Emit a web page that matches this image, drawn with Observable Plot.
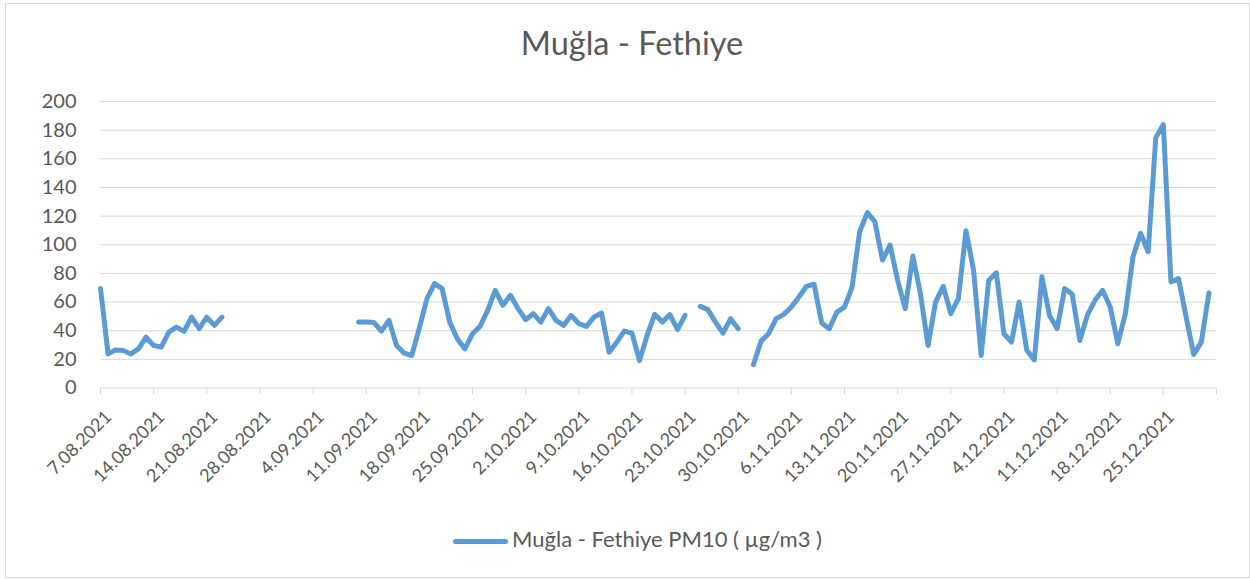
<!DOCTYPE html>
<html>
<head>
<meta charset="utf-8">
<script src="https://cdn.jsdelivr.net/npm/d3@7"></script>
<script src="https://cdn.jsdelivr.net/npm/@observablehq/plot@0.6"></script>
<style>
  html, body { margin: 0; padding: 0; background: #fff; }
  #chart { position: relative; width: 1250px; height: 579px; font-family: Lato, "Open Sans", sans-serif; color: #595959; }
  #frame { position: absolute; left: 5px; top: 3px; width: 1245px; height: 575px; border: 1px solid #d9d9d9; box-sizing: border-box; pointer-events: none; }
  #title { height: 80px; box-sizing: border-box; padding-top: 27px; font-size: 32.5px; line-height: 32.5px; text-align: center; padding-left: 14px; }
  #plot svg { display: block; }
  #legend { position: relative; height: 59px; }
  #legend .sw { position: absolute; left: 453px; top: 18.5px; width: 55px; height: 5px; border-radius: 2.5px; background: #5b9bd5; }
  #legend .lbl { position: absolute; left: 512px; top: 7.5px; font-size: 22px; line-height: 22px; white-space: nowrap; }
</style>
</head>
<body>
<div id="chart">
  <div id="title">Muğla - Fethiye</div>
  <div id="plot"></div>
  <div id="legend"><div class="sw"></div><div class="lbl">Muğla - Fethiye PM10 ( µg/m3 )</div></div>
  <div id="frame"></div>
</div>
<script>
// ---- data ----
const startDate = "7.08.2021";
const axisEndDate = "1.01.2022";
// daily PM10 values from 7.08.2021 to 31.12.2021 (null = missing)
const pm10 = [
  69.4, 23.8, 26.6, 26.2, 23.8, 27.3, 35.5, 29.7, 28.5, 39.0,
  42.5, 39.5, 49.5, 41.4, 49.5, 43.7, 49.5,
  null, null, null, null, null, null, null, null, null, null,
  null, null, null, null, null, null, null,
  46.0, 46.0, 45.8, 39.7, 47.2, 29.7, 24.3, 22.7, 42.0, 62.4,
  72.9, 69.4, 46.0, 34.4, 27.3, 37.9, 43.0, 54.2, 68.2, 57.7,
  64.7, 55.4, 47.7, 51.9, 46.0, 55.4, 47.2, 43.7, 50.7, 44.9,
  43.0, 49.5, 52.3, 25.0, 32.0, 39.7, 38.3, 19.1, 36.7, 51.4,
  46.0, 51.2, 40.7, 50.7, null, 57.0, 54.7, 46.0, 38.3, 48.4,
  41.4, null, 16.3, 32.7, 37.9, 48.4, 51.4, 56.5, 63.5, 71.0,
  72.4, 45.3, 41.4, 53.0, 56.5, 70.5, 109.1, 122.4, 116.1, 89.3,
  99.8, 75.2, 55.4, 92.1, 65.9, 29.7, 60.0, 71.0, 51.9, 62.4,
  109.8, 82.3, 22.7, 75.2, 80.4, 37.9, 32.0, 60.0, 26.6, 19.6,
  77.6, 50.7, 41.4, 69.4, 65.4, 33.2, 51.0, 61.2, 68.2, 56.5,
  30.9, 51.9, 91.6, 108.0, 95.1, 174.6, 183.9, 74.0, 76.4, 49.5,
  23.4, 32.0, 66.3
];
const yTicks = [0, 20, 40, 60, 80, 100, 120, 140, 160, 180, 200];
const xTickLabels = [
  "7.08.2021", "14.08.2021", "21.08.2021", "28.08.2021", "4.09.2021", "11.09.2021",
  "18.09.2021", "25.09.2021", "2.10.2021", "9.10.2021", "16.10.2021", "23.10.2021",
  "30.10.2021", "6.11.2021", "13.11.2021", "20.11.2021", "27.11.2021", "4.12.2021",
  "11.12.2021", "18.12.2021", "25.12.2021"
];

// ---- helpers ----
function parseDMY(s) {
  const [d, m, y] = s.split(".").map(Number);
  return new Date(Date.UTC(y, m - 1, d));
}
const start = parseDMY(startDate);
const end = parseDMY(axisEndDate);
const data = pm10.map((v, i) => ({
  date: new Date(Date.UTC(start.getUTCFullYear(), start.getUTCMonth(), start.getUTCDate() + i)),
  value: v
}));
const labelTicks = xTickLabels.map(s => ({date: parseDMY(s), label: s}));
const allTicks = labelTicks.map(d => d.date).concat([end]);

const chart = Plot.plot({
  width: 1250,
  height: 440,
  marginLeft: 100,
  marginRight: 34,
  marginTop: 21,
  marginBottom: 132.5,
  style: {fontFamily: "Lato, 'Open Sans', sans-serif", color: "#595959", background: "transparent"},
  x: {type: "utc", domain: [start, end]},
  y: {domain: [0, 200]},
  marks: [
    Plot.gridY(yTicks, {stroke: "#d9d9d9", strokeOpacity: 1, strokeWidth: 1}),
    Plot.axisY(yTicks, {tickSize: 0, tickPadding: 24, fontSize: 20, fill: "#595959", label: null}),
    Plot.axisX(allTicks, {tickSize: 7, stroke: "#d9d9d9", strokeOpacity: 1, fill: "none", label: null}),
    Plot.text(labelTicks, {
      x: "date", text: "label", frameAnchor: "bottom",
      rotate: -45, textAnchor: "end", lineAnchor: "middle",
      dx: 8, dy: 26, fontSize: 18, fill: "#595959"
    }),
    Plot.line(data, {
      x: "date", y: "value", stroke: "#5b9bd5", strokeWidth: 5,
      strokeLinejoin: "round", strokeLinecap: "round"
    })
  ]
});
document.getElementById("plot").appendChild(chart);
</script>
</body>
</html>
